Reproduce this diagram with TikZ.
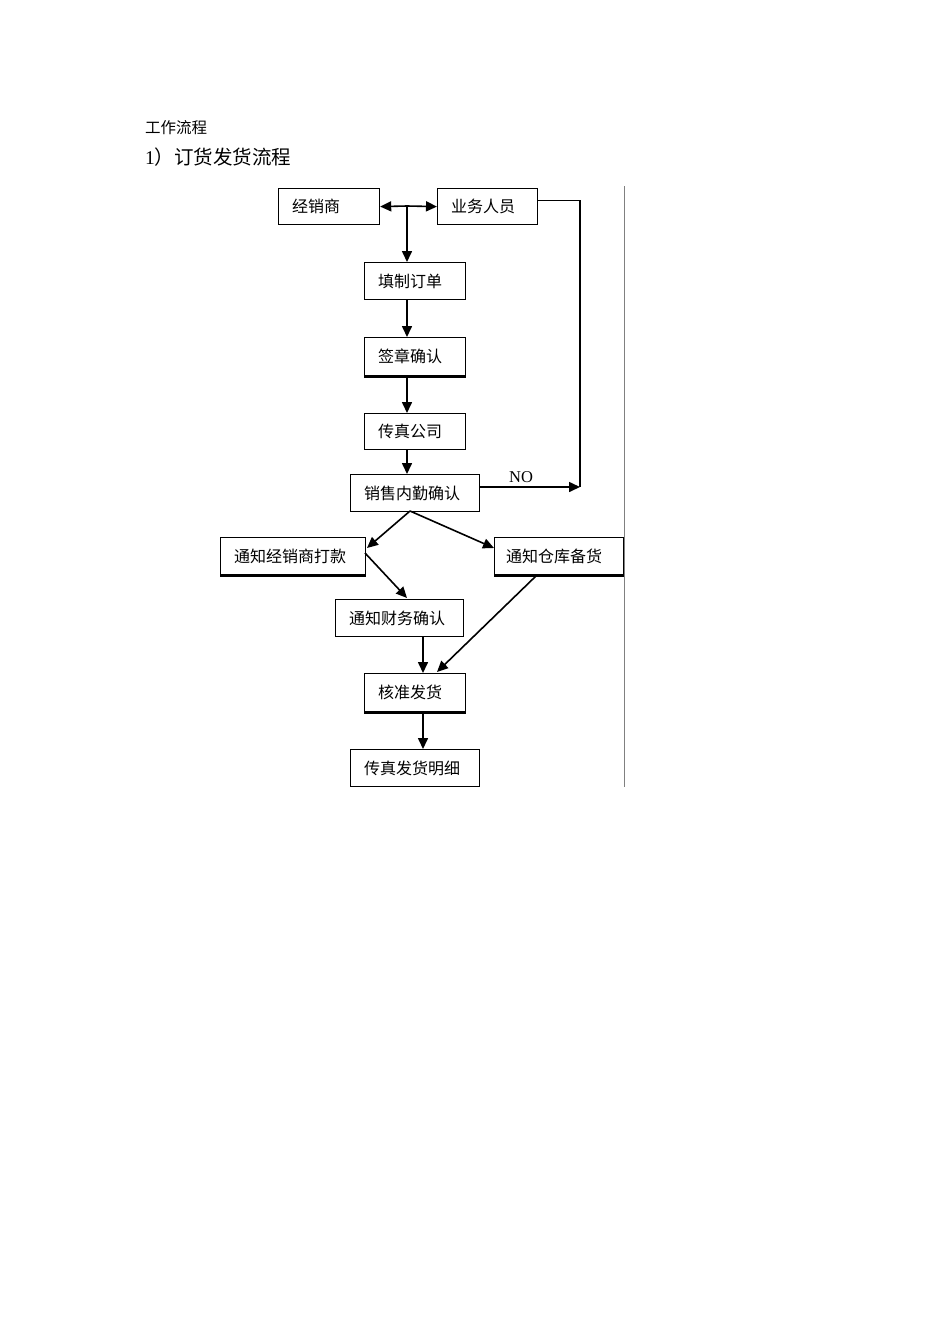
\documentclass[tikz,border=0pt]{standalone}
\usepackage{fontspec}
\setmainfont{Liberation Serif}
\newfontfamily\cjk{Noto Sans CJK SC}
\usetikzlibrary{arrows.meta}
\begin{document}
\begin{tikzpicture}[x=1pt,y=-1pt,
  box/.style={draw, line width=1.2pt, inner sep=0pt, anchor=north west},
  txt/.style={anchor=west, inner sep=0pt, xshift=14pt, font=\cjk\fontsize{16}{16}\selectfont},
  arr/.style={-{Triangle[length=11pt,width=10pt]}, line width=1.6pt},
  ln/.style={line width=1.6pt},
  shade/.style={line width=2.6pt}]
\useasboundingbox (0,0) rectangle (950,1344);
% headings
\node[anchor=west, inner sep=0pt, font=\cjk\fontsize{15.5}{16}\selectfont] (t1) at (145,128) {工作流程};
\node[anchor=west, inner sep=0pt, font=\fontsize{19.5}{20}\selectfont] (t2) at (145,157) {1{\cjk ）订货发货流程}};
% boxes
\node[box, minimum width=101, minimum height=36] (jxs) at (278,188) {};
\node[txt] at (jxs.west) {经销商};
\node[box, minimum width=100, minimum height=36] (ywry) at (437,188) {};
\node[txt] at (ywry.west) {业务人员};
\node[box, minimum width=101, minimum height=37] (tzdd) at (364,262) {};
\node[txt] at (tzdd.west) {填制订单};
\node[box, minimum width=101, minimum height=38] (qzqr) at (364,337) {};
\node[txt] at (qzqr.west) {签章确认};
\node[box, minimum width=101, minimum height=36] (czgs) at (364,413) {};
\node[txt] at (czgs.west) {传真公司};
\node[box, minimum width=129, minimum height=37] (xsnq) at (350,474) {};
\node[txt] at (xsnq.west) {销售内勤确认};
\node[box, minimum width=145, minimum height=37] (tzdk) at (220,537) {};
\node[txt] at (tzdk.west) {通知经销商打款};
\node[box, minimum width=129, minimum height=37] (tzck) at (494,537) {};
\node[txt, xshift=-2pt] at (tzck.west) {通知仓库备货};
\node[box, minimum width=128, minimum height=37] (tzcw) at (335,599) {};
\node[txt] at (tzcw.west) {通知财务确认};
\node[box, minimum width=101, minimum height=38] (hzfh) at (364,673) {};
\node[txt] at (hzfh.west) {核准发货};
\node[box, minimum width=129, minimum height=37] (czmx) at (350,749) {};
\node[txt] at (czmx.west) {传真发货明细};
% thicker bottom edges
\draw[shade] (qzqr.south west) -- (qzqr.south east);
\draw[shade] (hzfh.south west) -- (hzfh.south east);
\draw[shade] (tzdk.south west) -- (tzdk.south east);
\draw[shade] (tzck.south west) -- (tzck.south east);
% side line
\draw[gray, line width=1pt] (624,186) -- (624,787);
% connectors
\coordinate (j) at (407,206);
\draw[arr] (j) -- (jxs.east);
\draw[arr] (j) -- (ywry.west);
\draw[arr] (j) -- (tzdd.north -| j);
\draw[arr] (tzdd.south -| j) -- (qzqr.north -| j);
\draw[arr] (qzqr.south -| j) -- (czgs.north -| j);
\draw[arr] (czgs.south -| j) -- (xsnq.north -| j);
\coordinate (c) at (580,487);
\draw[ln] ([yshift=6pt]ywry.east) -| (c);
\draw[arr] (xsnq.east |- c) -- (c);
\node[anchor=center, inner sep=0pt, font=\fontsize{16.5}{17}\selectfont] (no) at (521,477) {NO};
\coordinate (b) at (410,511);
\draw[arr] (b) -- (367,548);
\draw[arr] (b) -- (494,548);
\draw[arr] (365,553) -- (407,598);
\draw[arr] (tzcw.south -| 423,0) -- (hzfh.north -| 423,0);
\draw[arr] (537,575) -- (437,672);
\draw[arr] (hzfh.south -| 423,0) -- (czmx.north -| 423,0);
\end{tikzpicture}
\end{document}
